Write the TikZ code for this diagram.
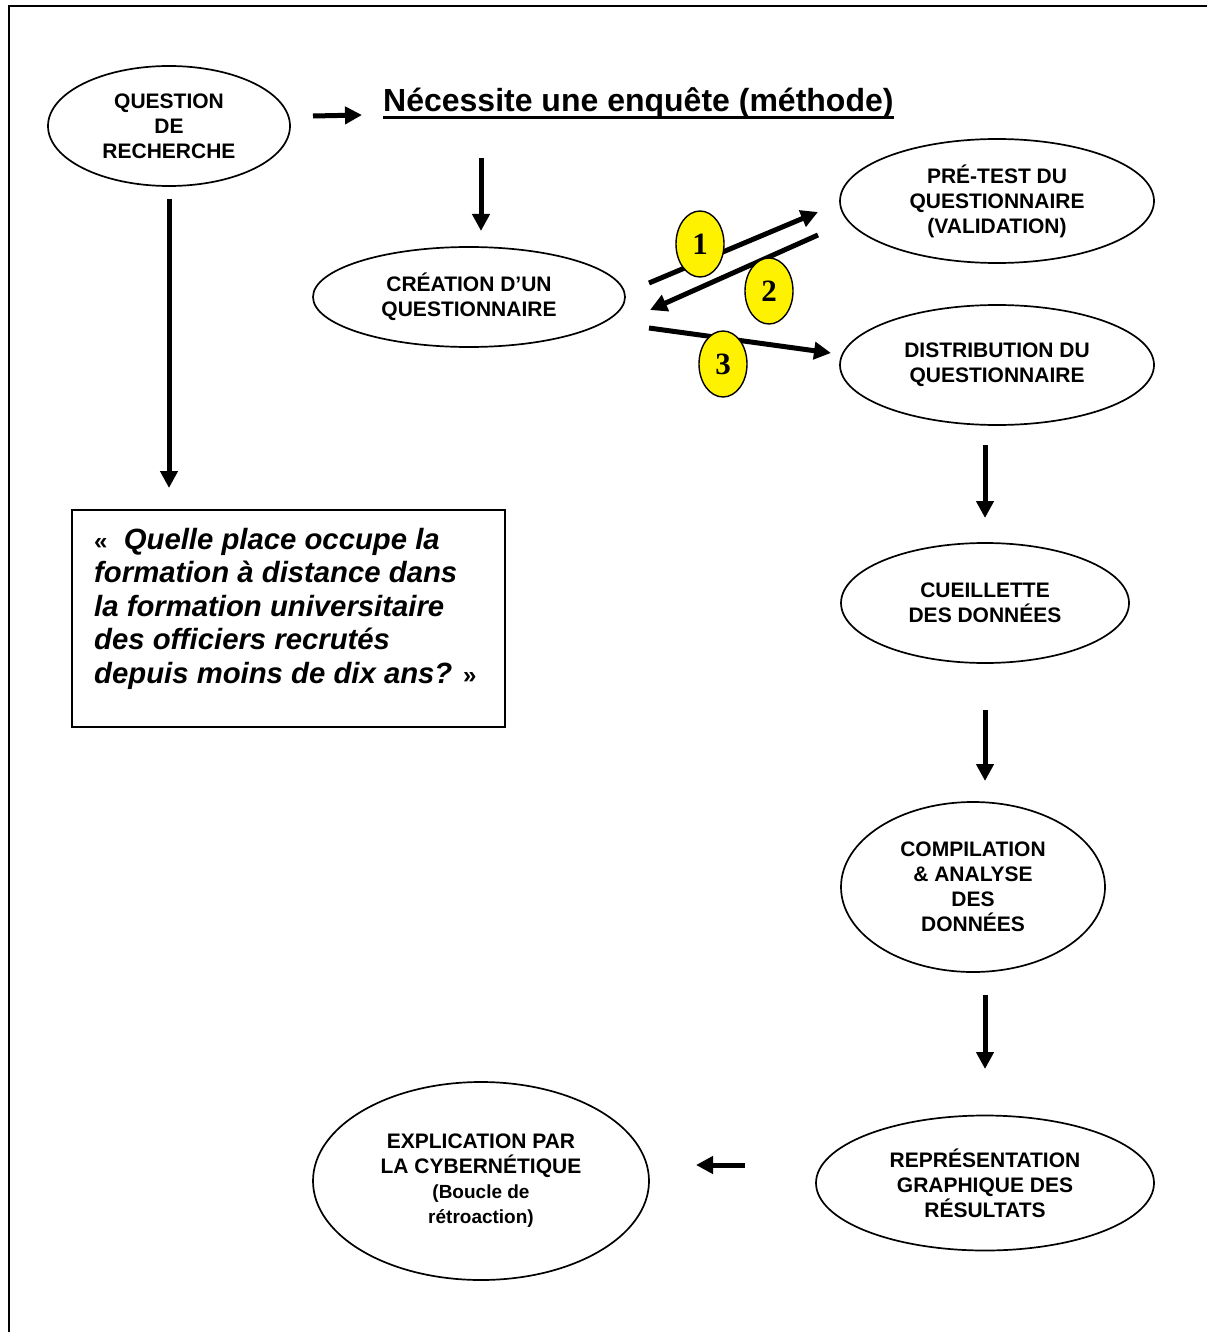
\documentclass[tikz,border=0pt]{standalone}
\usepackage{fontspec}
\setmainfont{Liberation Sans}
\newfontfamily\digitfont{Liberation Serif}
\usetikzlibrary{shapes.geometric,arrows.meta}
\begin{document}
\begin{tikzpicture}[x=1pt,y=-1pt,
  oval/.style={draw,line width=1.7pt,ellipse,inner sep=0pt,align=center,
    font=\fontsize{21}{25}\selectfont\bfseries},
  badge/.style={draw,line width=1.4pt,ellipse,fill=yellow,inner sep=0pt,
    minimum width=48pt,minimum height=66pt,font=\fontsize{31}{31}\selectfont\digitfont\bfseries},
  flow/.style={line width=5pt,-{Triangle[length=17pt,width=17pt]}}]
\useasboundingbox (0,0) rectangle (1207,1332);
% frame
\draw[line width=2pt] (9,1332) -- (9,6) -- (1207,6);
% ellipses
\node[oval,minimum width=242pt,minimum height=120pt] (q) at (169,126) {QUESTION\\DE\\RECHERCHE};
\node[oval,minimum width=312pt,minimum height=100pt] (c) at (469,297) {CRÉATION D’UN\\QUESTIONNAIRE};
\node[oval,minimum width=314pt,minimum height=124pt] (p) at (997,201) {PRÉ-TEST DU\\QUESTIONNAIRE\\(VALIDATION)};
\node[oval,minimum width=314pt,minimum height=120pt] (d) at (997,365) {DISTRIBUTION DU\\QUESTIONNAIRE};
\node[oval,minimum width=288pt,minimum height=120pt] (cu) at (985,603) {CUEILLETTE\\DES DONNÉES};
\node[oval,minimum width=264pt,minimum height=170pt] (co) at (973,887) {COMPILATION\\\& ANALYSE\\DES\\DONNÉES};
\node[oval,minimum width=338pt,minimum height=135pt] (r) at (985,1183) {REPRÉSENTATION\\GRAPHIQUE DES\\RÉSULTATS};
\node[oval,minimum width=336pt,minimum height=198pt] (e) at (481,1181) {EXPLICATION PAR\\LA CYBERNÉTIQUE\\{\fontsize{19}{24}\selectfont(Boucle de}\\{\fontsize{19}{24}\selectfont rétroaction)}};
% heading
\node[anchor=base west,inner sep=0pt,font=\fontsize{32}{36}\selectfont\bfseries] (n) at (383,112) {Nécessite une enquête (méthode)};
\draw[line width=3pt] (n.base west) ++(0,6) coordinate (ul1) -- (n.base east |- ul1);
% question box
\node[draw,line width=1.5pt,minimum width=433pt,minimum height=217pt,inner sep=0pt] (b) at (288.5,618.5) {};
\node[anchor=north west,inner sep=0pt,align=left,font=\fontsize{29.3}{33.5}\selectfont\bfseries\itshape] (bt) at (94,528)
 {{\upshape\fontsize{24}{24}\selectfont«}\ \ Quelle place occupe la\\formation à distance dans\\la formation universitaire\\des officiers recrutés\\depuis moins de dix ans? {\upshape\fontsize{24}{24}\selectfont»}};
% connector end points
\coordinate (a0s) at (313,116); \coordinate (a0e) at (362,115);
\coordinate (a1s) at (169,199); \coordinate (a1e) at (169,488);
\coordinate (a2s) at (481,158); \coordinate (a2e) at (481,231);
\coordinate (a3s) at (649,283); \coordinate (a3e) at (818,212);
\coordinate (a4s) at (818,235); \coordinate (a4e) at (650,310);
\coordinate (a5s) at (649,328); \coordinate (a5e) at (831,353);
\coordinate (a6s) at (985,445); \coordinate (a6e) at (985,518);
\coordinate (a7s) at (985,710); \coordinate (a7e) at (985,781);
\coordinate (a8s) at (985,995); \coordinate (a8e) at (985,1069);
\coordinate (a9s) at (745,1165); \coordinate (a9e) at (696,1165);
\draw[flow] (a0s) -- (a0e);
\draw[flow] (a1s) -- (a1e);
\draw[flow] (a2s) -- (a2e);
\draw[flow] (a3s) -- (a3e);
\draw[flow] (a4s) -- (a4e);
\draw[flow] (a5s) -- (a5e);
\draw[flow] (a6s) -- (a6e);
\draw[flow] (a7s) -- (a7e);
\draw[flow] (a8s) -- (a8e);
\draw[flow] (a9s) -- (a9e);
% badges
\node[badge] (k1) at (700,244) {1};
\node[badge] (k2) at (769,291) {2};
\node[badge] (k3) at (723,364) {3};
\end{tikzpicture}
\end{document}
